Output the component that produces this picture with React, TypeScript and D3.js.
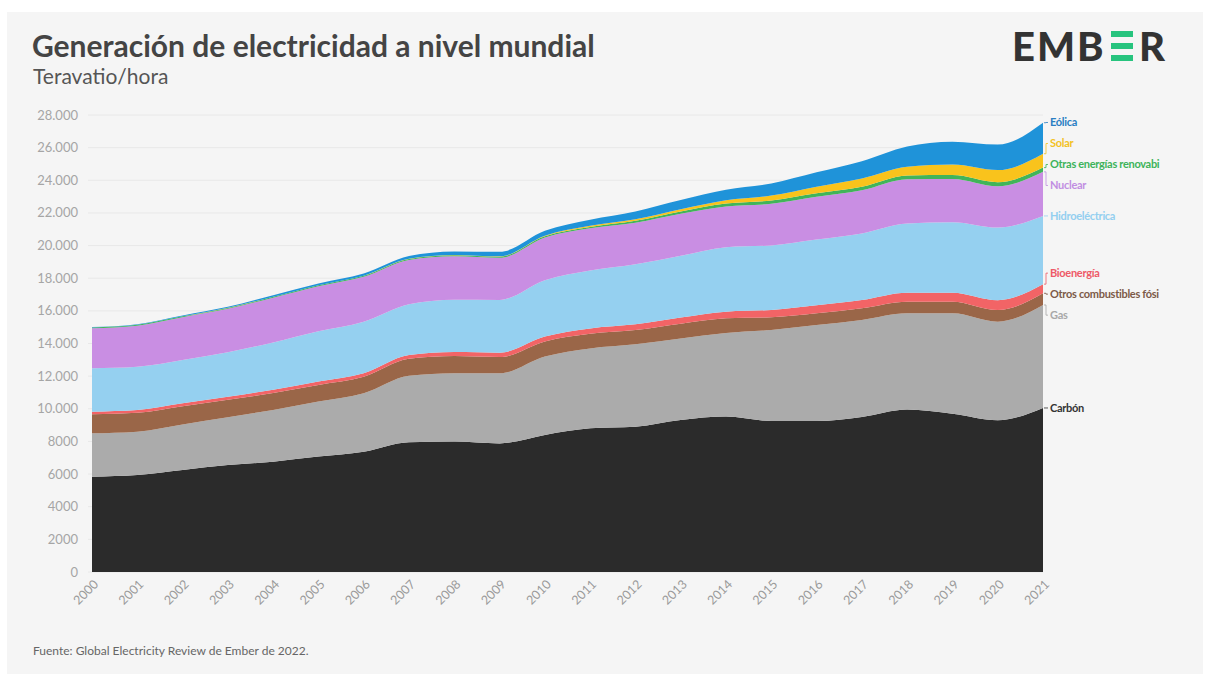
import React from 'react';
import * as d3 from 'd3';

const years = [2000, 2001, 2002, 2003, 2004, 2005, 2006, 2007, 2008, 2009, 2010, 2011, 2012, 2013, 2014, 2015, 2016, 2017, 2018, 2019, 2020, 2021];
const coal = [5840, 5940, 6250, 6550, 6760, 7070, 7370, 7950, 7990, 7880, 8400, 8800, 8900, 9310, 9520, 9250, 9250, 9500, 9950, 9700, 9300, 10050];
const gas = [2660, 2660, 2790, 2930, 3170, 3370, 3580, 4070, 4190, 4290, 4800, 4900, 5050, 5000, 5130, 5580, 5880, 5940, 5900, 6150, 6040, 6310];
const otherFossil = [1170, 1160, 1120, 1070, 1040, 1020, 1010, 1040, 1050, 1000, 930, 900, 870, 900, 890, 780, 720, 715, 715, 715, 715, 716];
const bioenergy = [155, 165, 175, 185, 195, 210, 220, 240, 255, 270, 295, 325, 355, 385, 410, 450, 500, 510, 550, 550, 600, 560];
const hydro = [2655, 2650, 2655, 2730, 2900, 3080, 3150, 3100, 3200, 3230, 3450, 3550, 3680, 3780, 3950, 3950, 4020, 4080, 4230, 4320, 4450, 4180];
const nuclear = [2450, 2520, 2620, 2660, 2740, 2760, 2760, 2720, 2660, 2580, 2620, 2580, 2550, 2580, 2500, 2550, 2620, 2640, 2720, 2650, 2530, 2700];
const otherRenewables = [50, 52, 54, 56, 58, 60, 62, 64, 66, 70, 80, 90, 110, 140, 180, 200, 210, 220, 230, 240, 250, 260];
const solar = [1, 1, 2, 2, 3, 4, 6, 8, 12, 20, 32, 63, 99, 137, 204, 306, 408, 511, 540, 640, 740, 850];
const wind = [31, 38, 52, 63, 85, 104, 133, 171, 221, 277, 300, 380, 480, 560, 640, 740, 880, 1050, 1230, 1400, 1560, 1900];

const seriesKeys = ['coal', 'gas', 'otherFossil', 'bioenergy', 'hydro', 'nuclear', 'otherRenewables', 'solar', 'wind'];
const seriesValues = [coal, gas, otherFossil, bioenergy, hydro, nuclear, otherRenewables, solar, wind];
const seriesLabels = ['Carbón', 'Gas', 'Otros combustibles fósi', 'Bioenergía', 'Hidroeléctrica', 'Nuclear', 'Otras energías renovabi', 'Solar', 'Eólica'];
const fillColors = ['#2b2b2b', '#ababab', '#9a6648', '#f26466', '#95d0f0', '#c98ee3', '#41b45a', '#f9c31c', '#1f93d9'];
const labelColors = ['#333333', '#a8a8a8', '#7c5a48', '#ee5a68', '#93cff0', '#c18ee2', '#3db35a', '#f3c21f', '#2a7ec3'];
const yTicks = [0, 2000, 4000, 6000, 8000, 10000, 12000, 14000, 16000, 18000, 20000, 22000, 24000, 26000, 28000];

const W = 1210;
const H = 677;
const FONT = 'Lato, "Open Sans", sans-serif';

function fmtTick(v: number): string {
  if (v < 10000) return String(v);
  const s = String(v);
  return s.slice(0, s.length - 3) + '.' + s.slice(s.length - 3);
}

function relaxLabels(targets: number[], gap: number): number[] {
  const order = targets.map((t, i) => i).sort((a, b) => targets[a] - targets[b]);
  type Cl = { idx: number[]; start: number };
  const clusters: Cl[] = [];
  const startOf = (idx: number[]) => {
    let s = 0;
    idx.forEach((id, k) => { s += targets[id] - k * gap; });
    return s / idx.length;
  };
  order.forEach((id) => {
    clusters.push({ idx: [id], start: targets[id] });
    while (clusters.length > 1) {
      const b = clusters[clusters.length - 1];
      const a = clusters[clusters.length - 2];
      if (a.start + a.idx.length * gap > b.start) {
        const merged = a.idx.concat(b.idx);
        clusters.splice(clusters.length - 2, 2, { idx: merged, start: startOf(merged) });
      } else break;
    }
  });
  const out = new Array(targets.length).fill(0);
  clusters.forEach((c) => c.idx.forEach((id, k) => { out[id] = c.start + k * gap; }));
  return out;
}

export default function App() {
  const x = d3.scaleLinear().domain([2000, 2021]).range([92, 1043]);
  const y = d3.scaleLinear().domain([0, 28000]).range([572, 115]);

  const table = years.map((yr, i) => {
    const row: Record<string, number> = { year: yr };
    seriesKeys.forEach((k, j) => { row[k] = seriesValues[j][i]; });
    return row;
  });
  const stacked = d3.stack<Record<string, number>>().keys(seriesKeys)(table);
  const area = d3.area<any>()
    .x((d) => x(d.data.year))
    .y0((d) => y(d[0]))
    .y1((d) => y(d[1]))
    .curve(d3.curveMonotoneX);

  const last = years.length - 1;
  const topYs = stacked.map((s) => y(s[last][1]));
  const labelYs = relaxLabels(topYs, 21);
  const xEnd = x(2021);

  return (
    <svg width={W} height={H} style={{ position: 'absolute', left: 0, top: 0 }} fontFamily={FONT}>
      <rect x={0} y={0} width={W} height={H} fill="#ffffff" />
      <rect x={7} y={12} width={1196} height={662} fill="#f5f5f5" />

      <text x={32} y={57} fontSize={30} fontWeight={700} fill="#444">Generación de electricidad a nivel mundial</text>
      <text x={33} y={84} fontSize={21} fill="#555">Teravatio/hora</text>

      <g>
        <text x={1012} y={61} fontSize={40} fontWeight={900} fill="#333" letterSpacing={2}>EMB</text>
        <rect x={1111} y={31} width={22} height={6} fill="#27c47e" />
        <rect x={1111} y={43} width={22} height={6} fill="#27c47e" />
        <rect x={1111} y={55} width={22} height={6} fill="#27c47e" />
        <text x={1139} y={61} fontSize={40} fontWeight={900} fill="#333">R</text>
      </g>

      {yTicks.map((t) => (
        <g key={t}>
          <line x1={88} x2={xEnd} y1={y(t)} y2={y(t)} stroke="#e8e8e8" strokeWidth={1} />
          <text x={78} y={y(t)} dy="0.35em" textAnchor="end" fontSize={13} fill="#a5a5a5">{fmtTick(t)}</text>
        </g>
      ))}

      {stacked.map((s, i) => (
        <path key={s.key} d={area(s as any) || ''} fill={fillColors[i]} />
      ))}

      {years.map((yr) => (
        <text key={yr} transform={`translate(${x(yr) + 4},${582}) rotate(-45)`} textAnchor="end" dy="0.35em" fontSize={12.5} fill="#9a9a9a">{yr}</text>
      ))}

      {stacked.map((s, i) => (
        <g key={'lab' + s.key}>
          <path d={`M${xEnd + 1},${topYs[i]} L${xEnd + 3},${topYs[i]} L${xEnd + 3},${labelYs[i]} L${xEnd + 5},${labelYs[i]}`} fill="none" stroke={labelColors[i]} strokeWidth={1} opacity={0.8} />
          <text x={xEnd + 7} y={labelYs[i]} dy="0.35em" fontSize={11} fontWeight={700} fill={labelColors[i]} letterSpacing={-0.3}>{seriesLabels[i]}</text>
        </g>
      ))}

      <text x={33} y={655} fontSize={12} fill="#666">Fuente: Global Electricity Review de Ember de 2022.</text>
    </svg>
  );
}
